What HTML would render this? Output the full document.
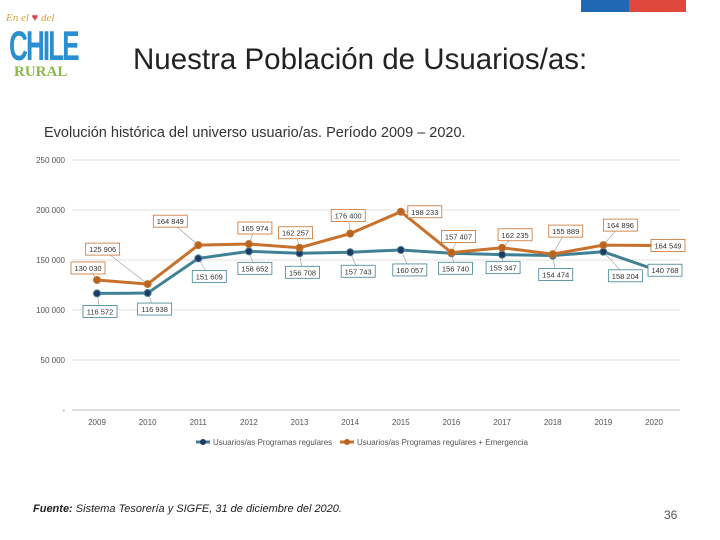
<!DOCTYPE html>
<html><head><meta charset="utf-8">
<style>
body{margin:0;background:#fff;font-family:"Liberation Sans",sans-serif;}
#root{position:relative;width:720px;height:540px;overflow:hidden;background:#fff;}
.abs{position:absolute;}
</style></head>
<body>
<div id="root">
  <div class="abs" style="left:581px;top:0;width:48px;height:12px;background:#1f68b3"></div>
  <div class="abs" style="left:629px;top:0;width:57px;height:12px;background:#e0483e"></div>
  <div class="abs" style="left:6px;top:4px;width:76px;height:78px;">
    <div style="position:absolute;left:0;top:8px;font:italic 11px 'Liberation Serif',serif;color:#d9a040">En el <span style="color:#d44">♥</span> del</div>
    <div style="position:absolute;left:3px;top:18px;font:bold 42px 'Liberation Sans',sans-serif;color:#2a8fd0;letter-spacing:-3px;transform:scaleX(0.62);transform-origin:left">CHILE</div>
    <div style="position:absolute;left:8px;top:60px;font:bold 15px 'Liberation Serif',serif;color:#8bb84a">RURAL</div>
  </div>
  <div class="abs" style="left:133px;top:43px;font-size:29.5px;color:#222;">Nuestra Población de Usuarios/as:</div>
  <div class="abs" style="left:44px;top:125px;font-size:14.5px;color:#333;">Evolución histórica del universo usuario/as. Período 2009 – 2020.</div>
  <svg class="abs" style="left:0;top:0" width="720" height="540" id="chart"></svg>
  <div class="abs" style="left:33px;top:503px;font-size:11px;color:#222;"><b><i>Fuente:</i></b> <i>Sistema Tesorería y SIGFE, 31 de diciembre del 2020.</i></div>
  <div class="abs" style="left:664px;top:508px;font-size:12px;color:#555;">36</div>
</div>
<script>
const years=["2009","2010","2011","2012","2013","2014","2015","2016","2017","2018","2019","2020"];
const regular=[116572,116938,151609,158652,156708,157743,160057,156740,155347,154474,158204,140768];
const emergency=[130030,125906,164849,165974,162257,176400,198233,157407,162235,155889,164896,164549];
const yTicks=[0,50000,100000,150000,200000,250000];
const yTickLabels=["-","50 000","100 000","150 000","200 000","250 000"];
const seriesNames=["Usuarios/as Programas regulares","Usuarios/as Programas regulares + Emergencia"];
const offReg=[[3,18],[7,16],[11,18],[6,17],[3,19],[8,19],[9,20],[4,15],[1,13],[3,19],[22,24],[11,1]];
const offEm=[[-9,-12],[-45,-35],[-28,-24],[6,-16],[-4,-15],[-2,-18],[24,0],[7,-16],[13,-13],[13,-23],[17,-20],[14,0]];
const svg=document.getElementById('chart');
const NS='http://www.w3.org/2000/svg';
const x=i=>97+i*(654-97)/11;
const y=v=>410-v*(250/250000);
function mk(t,a){const e=document.createElementNS(NS,t);for(const k in a)e.setAttribute(k,a[k]);svg.appendChild(e);return e;}
yTicks.forEach((t,i)=>{
  const g=mk('line',{x1:72,x2:680,y1:y(t),y2:y(t),stroke:i==0?'#bbb':'#e2e2e2','stroke-width':1});
  
  const l=mk('text',{x:65,y:y(t)+3,'text-anchor':'end','font-size':8,fill:'#555','font-family':'Liberation Sans'});
  l.textContent=yTickLabels[i];
  
});
years.forEach((yr,i)=>{
  const l=mk('text',{x:x(i),y:425,'text-anchor':'middle','font-size':8,fill:'#555','font-family':'Liberation Sans'});
  l.textContent=yr;
  
});
function fmt(v){const s=String(v);return s.slice(0,s.length-3)+' '+s.slice(-3);}
function series(vals,col,mcol,off,name){
  const p=mk('polyline',{points:vals.map((v,i)=>x(i)+','+y(v)).join(' '),fill:'none',stroke:col,'stroke-width':3});
  
  vals.forEach((v,i)=>{
    const lx=x(i)+off[i][0],ly=y(v)+off[i][1];
    const ln=mk('line',{x1:x(i),y1:y(v),x2:lx,y2:ly,stroke:'#999','stroke-width':0.6});
    
  });
  vals.forEach((v,i)=>{
    const c=mk('circle',{cx:x(i),cy:y(v),r:3.5,fill:mcol,stroke:col,'stroke-width':1});
    
  });
  vals.forEach((v,i)=>{
    const lx=x(i)+off[i][0],ly=y(v)+off[i][1];
    const r=mk('rect',{x:lx-17,y:ly-6,width:34,height:12,fill:'#fff',stroke:col,'stroke-width':0.8});
    
    const t=mk('text',{x:lx,y:ly+3,'text-anchor':'middle','font-size':7.5,fill:'#333','font-family':'Liberation Sans'});
    t.textContent=fmt(v);
    
  });
}
series(regular,'#3f8193','#1f3864',offReg,'regular');
series(emergency,'#c8712c','#b8641f',offEm,'emergency');
[[196,'#3f8193','#1f3864',0],[340,'#c8712c','#b8641f',1]].forEach(([lx,c,m,k])=>{
  const l=mk('line',{x1:lx,x2:lx+14,y1:442,y2:442,stroke:c,'stroke-width':3});
  
  const cc=mk('circle',{cx:lx+7,cy:442,r:3,fill:m});
  
  const t=mk('text',{x:lx+17,y:445,'font-size':8,fill:'#555','font-family':'Liberation Sans'});
  t.textContent=seriesNames[k];
  
});
</script>
</body></html>
